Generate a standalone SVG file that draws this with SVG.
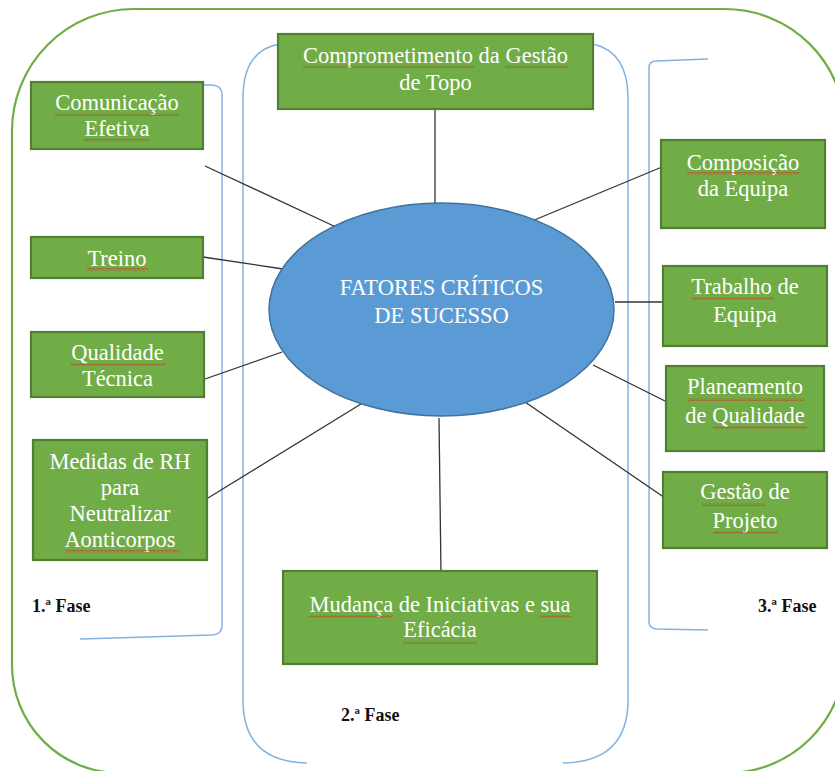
<svg xmlns="http://www.w3.org/2000/svg" width="835" height="771" viewBox="0 0 835 771">
<defs>
<pattern id="squig" x="0" y="0" width="4" height="3" patternUnits="userSpaceOnUse">
<path d="M0,0.6 L2,2.4 L4,0.6" fill="none" stroke="#e0231c" stroke-width="0.8"/>
</pattern>
<style>
.box{fill:#70AD47;stroke:#507E32;stroke-width:2.2}
.t{font-family:"Liberation Serif","Times New Roman",serif;font-size:22.5px;fill:#ffffff;text-anchor:middle}
.ph{font-family:"Liberation Serif","Times New Roman",serif;font-size:18px;font-weight:bold;fill:#111}
.br{fill:none;stroke:#84b3e2;stroke-width:1.5}
.con line{stroke:#333;stroke-width:1.3}
.sq{fill:url(#squig)}
</style>
</defs>
<rect width="835" height="771" fill="#ffffff"/>
<g id="frame">
<path d="M135,9 H725 A120,120 0 0 1 845,129 V655 A118,118 0 0 1 727,773 H120 A108,108 0 0 1 12,665 V131 A122,122 0 0 1 134,9 Z" fill="none" stroke="#70AD47" stroke-width="2.2"/>
</g>
<g id="brackets">
<path class="br" d="M80,82 L212,85 Q222,86 222,94 V626 Q222,634 212,635 L80,639"/>
<path class="br" d="M280,44 Q243,50 243,98 V700 Q243,762 307,763"/>
<path class="br" d="M593,44 Q628,52 628,98 V700 Q628,762 563,763"/>
<path class="br" d="M708,59 L656,61 Q649,61 649,68 V622 Q649,628 656,629 L708,630"/>
</g>
<g id="connectors" class="con">
<line x1="205" y1="166" x2="338" y2="228"/>
<line x1="203" y1="257" x2="283" y2="269"/>
<line x1="205" y1="379" x2="282" y2="352"/>
<line x1="208" y1="498" x2="361" y2="404"/>
<line x1="435" y1="107" x2="435" y2="203"/>
<line x1="532" y1="221" x2="662" y2="167"/>
<line x1="615" y1="302" x2="667" y2="302"/>
<line x1="593" y1="365" x2="667" y2="402"/>
<line x1="525" y1="402" x2="665" y2="498"/>
<line x1="439" y1="418" x2="441" y2="574"/>
</g>
<g id="center">
<ellipse cx="441.5" cy="309.5" rx="172.5" ry="106.5" fill="#5B9BD5" stroke="#41719C" stroke-width="1.5"/>
<text class="t" x="441.5" y="295">FATORES CRÍTICOS</text>
<text class="t" x="441.5" y="323">DE SUCESSO</text>
</g>
<g id="n-comprometimento">
<rect class="box" x="278" y="34" width="315" height="75"/>
<text class="t" x="435.5" y="63">Comprometimento da Gestão</text>
<text class="t" x="435.5" y="90">de Topo</text>
<rect class="sq" x="303" y="65" width="171" height="3"/>
<rect class="sq" x="505" y="65" width="63" height="3"/>
</g>
<g id="n-comunicacao">
<rect class="box" x="31" y="82" width="172" height="67"/>
<text class="t" x="117" y="110">Comunicação</text>
<text class="t" x="117" y="136">Efetiva</text>
<rect class="sq" x="55" y="113" width="124" height="3"/>
<rect class="sq" x="84" y="139" width="65" height="3"/>
</g>
<g id="n-treino">
<rect class="box" x="31" y="237" width="172" height="41"/>
<text class="t" x="117" y="266">Treino</text>
<rect class="sq" x="87" y="268" width="61" height="3"/>
</g>
<g id="n-qualidade">
<rect class="box" x="31" y="332" width="173" height="65"/>
<text class="t" x="117.5" y="360">Qualidade</text>
<text class="t" x="117.5" y="386">Técnica</text>
<rect class="sq" x="71" y="363" width="94" height="3"/>
</g>
<g id="n-medidas">
<rect class="box" x="33" y="440" width="174" height="120"/>
<text class="t" x="120" y="469">Medidas de RH</text>
<text class="t" x="120" y="495">para</text>
<text class="t" x="120" y="521">Neutralizar</text>
<text class="t" x="120" y="547">Aonticorpos</text>
<rect class="sq" x="66" y="550" width="113" height="3"/>
</g>
<g id="n-composicao">
<rect class="box" x="661" y="140" width="164" height="88"/>
<text class="t" x="743" y="170">Composição</text>
<text class="t" x="743" y="196">da Equipa</text>
<rect class="sq" x="687" y="172" width="112" height="3"/>
</g>
<g id="n-trabalho">
<rect class="box" x="663" y="266" width="164" height="80"/>
<text class="t" x="745" y="294">Trabalho de</text>
<text class="t" x="745" y="322">Equipa</text>
<rect class="sq" x="692" y="297" width="82" height="3"/>
</g>
<g id="n-planeamento">
<rect class="box" x="666" y="366" width="158" height="85"/>
<text class="t" x="745" y="394">Planeamento</text>
<text class="t" x="745" y="423">de Qualidade</text>
<rect class="sq" x="688" y="398" width="116" height="3"/>
<rect class="sq" x="713" y="426" width="94" height="3"/>
</g>
<g id="n-gestao">
<rect class="box" x="663" y="472" width="164" height="76"/>
<text class="t" x="745" y="499">Gestão de</text>
<text class="t" x="745" y="528">Projeto</text>
<rect class="sq" x="702" y="503" width="63" height="3"/>
<rect class="sq" x="713" y="531" width="65" height="3"/>
</g>
<g id="n-mudanca">
<rect class="box" x="283" y="571" width="314" height="93"/>
<text class="t" x="440" y="612">Mudança de Iniciativas e sua</text>
<text class="t" x="440" y="637">Eficácia</text>
<rect class="sq" x="309" y="615" width="84" height="3"/>
<rect class="sq" x="540" y="615" width="31" height="3"/>
<rect class="sq" x="403" y="641" width="74" height="3"/>
</g>
<g id="labels">
<text class="ph" x="32" y="612">1.ª Fase</text>
<text class="ph" x="341" y="721">2.ª Fase</text>
<text class="ph" x="758" y="612">3.ª Fase</text>
</g>
</svg>
